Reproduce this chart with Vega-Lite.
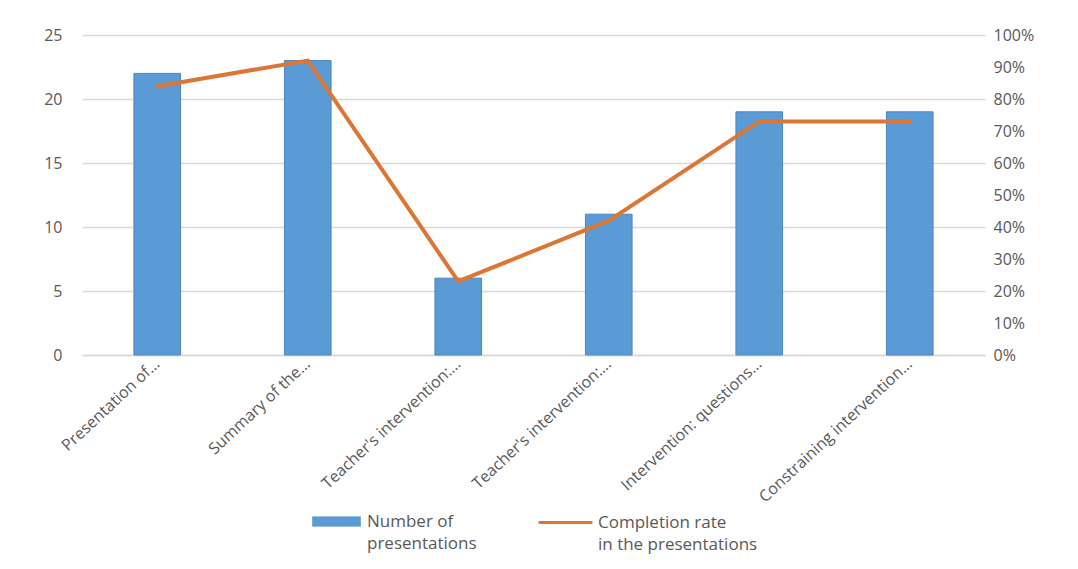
{
  "$schema": "https://vega.github.io/schema/vega-lite/v6.json",
  "autosize": {"type": "none"},
  "padding": {"left": 82, "top": 35, "right": 93, "bottom": 214},
  "width": 903,
  "height": 320,
  "background": "white",
  "config": {
    "font": "Open Sans",
    "view": {"stroke": null},
    "style": {"guide-label": {"lineHeight": 22}},
    "axis": {"labelFont": "Open Sans", "labelFontSize": 16, "labelColor": "#595959", "ticks": false, "domain": false, "title": null}
  },
  "data": {
    "values": [
      {"category": "Presentation of…", "count": 22, "rate": 0.84},
      {"category": "Summary of the…", "count": 23, "rate": 0.92},
      {"category": "Teacher's intervention:…", "count": 6, "rate": 0.23},
      {"category": "Teacher's intervention:… ", "count": 11, "rate": 0.42},
      {"category": "Intervention: questions…", "count": 19, "rate": 0.73},
      {"category": "Constraining intervention…", "count": 19, "rate": 0.73}
    ]
  },
  "encoding": {
    "x": {
      "field": "category", "type": "nominal", "sort": null,
      "scale": {"paddingInner": 0, "paddingOuter": 0},
      "axis": {"labelAngle": -43, "labelAlign": "right", "labelBaseline": "middle", "labelPadding": 6, "labelOverlap": false, "labelLimit": 400, "domain": true, "domainColor": "#D9D9D9", "domainWidth": 1.5}
    }
  },
  "layer": [
    {
      "mark": {"type": "bar", "width": {"band": 0.31}, "stroke": "#4A86C0", "strokeWidth": 1},
      "encoding": {
        "y": {"field": "count", "type": "quantitative", "scale": {"domain": [0, 25]},
          "axis": {"values": [0, 5, 10, 15, 20, 25], "grid": true, "gridColor": "#D9D9D9", "gridWidth": 1.5, "labelPadding": 20}},
        "fill": {"datum": "Number of presentations", "type": "nominal",
          "scale": {"domain": ["Number of presentations"], "range": ["#5B9BD5"]},
          "legend": {"title": null, "orient": "none", "legendX": 230, "legendY": 462,
            "symbolType": "M-1,-0.2H1V0.2H-1Z", "symbolSize": 2304, "symbolStrokeColor": "#4A86C0", "symbolStrokeWidth": 0.5,
            "labelFont": "Open Sans", "labelFontSize": 17, "labelColor": "#595959", "labelLimit": 400, "labelOffset": 6,
            "labelExpr": "['Number of', 'presentations']"}}
      }
    },
    {
      "mark": {"type": "line", "strokeWidth": 4, "strokeCap": "round"},
      "encoding": {
        "y": {"field": "rate", "type": "quantitative", "scale": {"domain": [0, 1]},
          "axis": {"orient": "right", "format": "%", "values": [0, 0.1, 0.2, 0.3, 0.4, 0.5, 0.6, 0.7, 0.8, 0.9, 1], "grid": false, "labelPadding": 8}},
        "stroke": {"datum": "Completion rate in the presentations", "type": "nominal",
          "scale": {"domain": ["Completion rate in the presentations"], "range": ["#DC7635"]},
          "legend": {"title": null, "orient": "none", "legendX": 455, "legendY": 459,
            "symbolType": "stroke", "symbolSize": 2900, "symbolStrokeWidth": 3,
            "labelFont": "Open Sans", "labelFontSize": 17, "labelColor": "#595959", "labelLimit": 400, "labelOffset": 4,
            "labelExpr": "['Completion rate', 'in the presentations']"}}
      }
    }
  ],
  "resolve": {"scale": {"y": "independent", "fill": "independent", "stroke": "independent"}}
}
